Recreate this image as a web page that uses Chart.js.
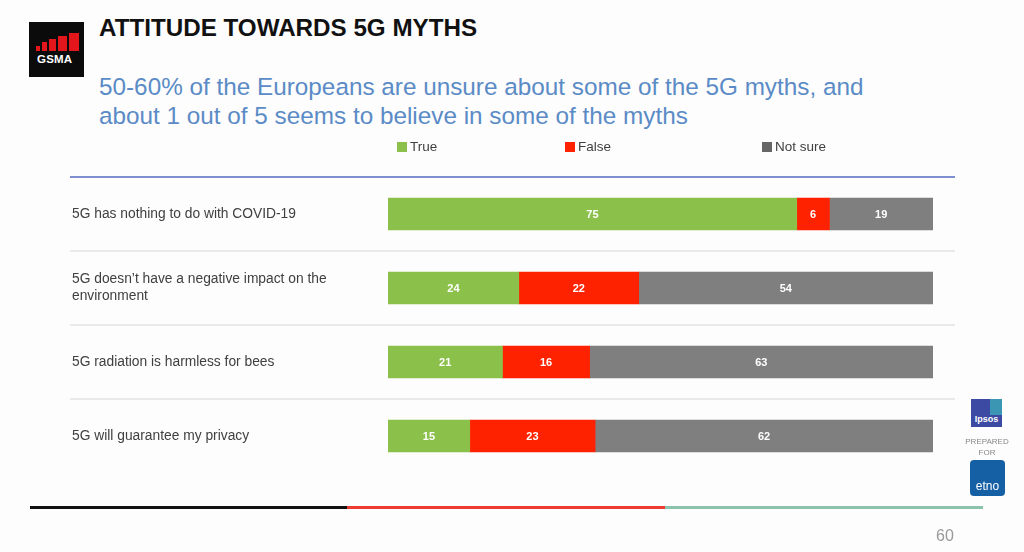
<!DOCTYPE html>
<html>
<head>
<meta charset="utf-8">
<script src="https://cdn.jsdelivr.net/npm/chart.js@4.4.0/dist/chart.umd.min.js"></script>
<style>
  html, body { margin: 0; padding: 0; background: #fdfdfd; }
  body { width: 1024px; height: 552px; position: relative; overflow: hidden; font-family: "Liberation Sans", Arial, sans-serif; }
  #wrap { position: absolute; left: 0; top: 0; width: 1024px; height: 552px; }
  .title { position: absolute; left: 99px; top: 14px; font-size: 24.2px; font-weight: bold; color: #111; }
  .sub { position: absolute; left: 99px; top: 72px; font-size: 24.3px; line-height: 29px; color: #5b8bc6; }
  .logo { position: absolute; left: 29px; top: 22px; width: 55px; height: 55px; background: #0b0b0b; }
  .logo i { position: absolute; top: auto; bottom: 26px; background: #e3161b; }
  .logo span { position: absolute; left: 8px; top: 31px; color: #fff; font-size: 11.5px; font-weight: bold; letter-spacing: 0.2px; }
  .line { position: absolute; top: 506px; height: 3px; }
  .page { position: absolute; left: 936px; top: 527px; font-size: 16px; color: #999; }
  .ipsos { position: absolute; left: 971px; top: 399px; width: 31px; height: 28px; background: #3c4aa3; color: #fff; font-size: 9px; font-weight: bold; text-align: center; line-height: 40px; overflow: hidden; }
  .ipsos:before { content: ""; position: absolute; right: 0; top: 0; width: 12px; height: 16px; background: #39a9b6; opacity: 0.8; }
  .prep { position: absolute; left: 957px; top: 436px; width: 60px; text-align: center; font-size: 8px; line-height: 11px; color: #888; }
  .etno { position: absolute; left: 970px; top: 460px; width: 35px; height: 36px; background: #1560a5; border-radius: 4px; color: #fff; font-size: 12px; text-align: center; line-height: 52px; }
</style>
</head>
<body>
<div class="logo">
  <i style="left:7px;width:4px;height:5px"></i><i style="left:13px;width:5px;height:9px"></i><i style="left:20px;width:7px;height:12px"></i><i style="left:29px;width:9px;height:15px"></i><i style="left:40px;width:10px;height:18px"></i>
  <span>GSMA</span>
</div>
<div class="title">ATTITUDE TOWARDS 5G MYTHS</div>
<div class="sub">50-60% of the Europeans are unsure about some of the 5G myths, and<br>about 1 out of 5 seems to believe in some of the myths</div>
<div id="wrap"><canvas id="myChart" width="1024" height="552"></canvas></div>
<div class="line" style="left:30px;width:317px;background:#111"></div>
<div class="line" style="left:347px;width:318px;background:#ee3b32"></div>
<div class="line" style="left:665px;width:318px;background:#8cc3ad"></div>
<div class="ipsos">Ipsos</div>
<div class="prep">PREPARED<br>FOR</div>
<div class="etno">etno</div>
<div class="page">60</div>
<script>
const categories = [
  ['5G has nothing to do with COVID-19'],
  ['5G doesn\u2019t have a negative impact on the', 'environment'],
  ['5G radiation is harmless for bees'],
  ['5G will guarantee my privacy']
];
const seriesNames = ['True', 'False', 'Not sure'];
const trueValues = [75, 24, 21, 15];
const falseValues = [6, 22, 16, 23];
const notSureValues = [19, 54, 63, 62];
const colors = ['#8bc14a', '#fe2200', '#7f7f7f'];
const legendColors = ['#8bc14a', '#fe2200', '#666666'];
const legendX = [397, 565, 762];

const ctx = document.getElementById('myChart');

const decorPlugin = {
  id: 'decor',
  beforeDatasetsDraw(chart) {
    const c = chart.ctx;
    const area = chart.chartArea;
    const y = chart.scales.y;
    c.save();
    // top blue rule
    c.strokeStyle = '#7f8fcf';
    c.lineWidth = 2;
    c.beginPath();
    c.moveTo(70, area.top);
    c.lineTo(955, area.top);
    c.stroke();
    // gray separators between categories
    c.strokeStyle = '#e2e2e2';
    c.lineWidth = 1.5;
    for (let i = 0; i < categories.length - 1; i++) {
      const py = (y.getPixelForValue(i) + y.getPixelForValue(i + 1)) / 2;
      c.beginPath();
      c.moveTo(70, py);
      c.lineTo(955, py);
      c.stroke();
    }
    // category labels
    c.fillStyle = '#404040';
    c.font = '13.8px "Liberation Sans", Arial, sans-serif';
    c.textBaseline = 'middle';
    c.textAlign = 'left';
    categories.forEach((lines, i) => {
      const cy = y.getPixelForValue(i);
      const lh = 17;
      lines.forEach((t, j) => {
        c.fillText(t, 72, cy + (j - (lines.length - 1) / 2) * lh);
      });
    });
    // legend
    c.font = '13.5px "Liberation Sans", Arial, sans-serif';
    seriesNames.forEach((n, i) => {
      c.fillStyle = legendColors[i];
      c.fillRect(legendX[i], 142, 10, 10);
      c.fillStyle = '#404040';
      c.fillText(n, legendX[i] + 13, 147.5);
    });
    c.restore();
  },
  afterDatasetsDraw(chart) {
    const c = chart.ctx;
    c.save();
    c.fillStyle = '#ffffff';
    c.font = 'bold 11px "Liberation Sans", Arial, sans-serif';
    c.textAlign = 'center';
    c.textBaseline = 'middle';
    chart.data.datasets.forEach((ds, di) => {
      chart.getDatasetMeta(di).data.forEach((bar, i) => {
        c.fillText(String(ds.data[i]), (bar.x + bar.base) / 2, bar.y + 1);
      });
    });
    c.restore();
  }
};

const config = {
  type: 'bar',
  data: {
    labels: categories,
    datasets: [
      { label: seriesNames[0], data: trueValues, backgroundColor: colors[0] },
      { label: seriesNames[1], data: falseValues, backgroundColor: colors[1] },
      { label: seriesNames[2], data: notSureValues, backgroundColor: colors[2] }
    ]
  },
  options: {
    indexAxis: 'y',
    responsive: false,
    animation: false,
    barThickness: 32,
    layout: { padding: { left: 388, right: 91, top: 177, bottom: 79 } },
    plugins: { legend: false, tooltip: { enabled: false } },
    scales: {
      x: { stacked: true, min: 0, max: 100, display: false },
      y: { stacked: true, display: false }
    }
  },
  plugins: [decorPlugin]
};

let chart = new Chart(ctx, config);
</script>
</body>
</html>
